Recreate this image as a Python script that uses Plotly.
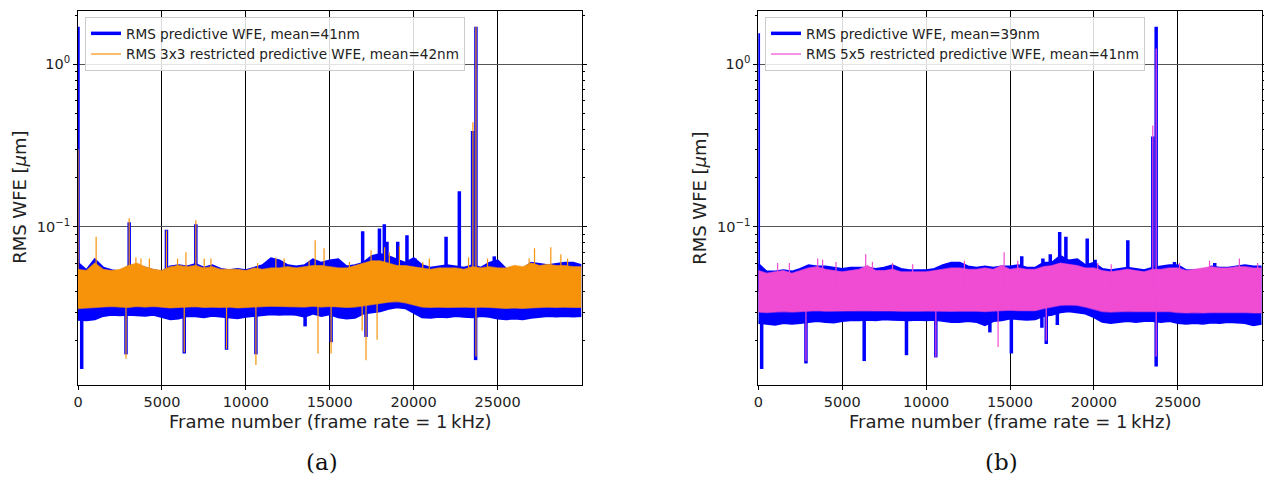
import plotly.graph_objects as go

# ---------------- data ----------------
frames = list(range(0, 30000, 500)) + [29999]

# panel (a): envelope of the dense noise band
blue_a_upper = [0.060, 0.054, 0.063, 0.056, 0.054, 0.053, 0.057, 0.058, 0.056, 0.054,
                0.053, 0.057, 0.058, 0.057, 0.059, 0.056, 0.058, 0.055, 0.054, 0.055,
                0.054, 0.056, 0.058, 0.064, 0.062, 0.058, 0.057, 0.058, 0.063, 0.060,
                0.062, 0.063, 0.057, 0.058, 0.060, 0.066, 0.068, 0.066, 0.063, 0.060,
                0.064, 0.058, 0.056, 0.057, 0.058, 0.057, 0.056, 0.058, 0.056, 0.060,
                0.062, 0.055, 0.054, 0.055, 0.060, 0.059, 0.058, 0.059, 0.060, 0.060, 0.058]
blue_a_lower = [0.0270, 0.0268, 0.0272, 0.0285, 0.0290, 0.0288, 0.0290, 0.0288, 0.0286, 0.0290,
                0.0280, 0.0272, 0.0275, 0.0285, 0.0284, 0.0280, 0.0286, 0.0282, 0.0280, 0.0276,
                0.0282, 0.0285, 0.0290, 0.0292, 0.0290, 0.0292, 0.0290, 0.0282, 0.0295, 0.0285,
                0.0292, 0.0280, 0.0275, 0.0278, 0.0295, 0.0300, 0.0305, 0.0315, 0.0322, 0.0318,
                0.0300, 0.0280, 0.0278, 0.0282, 0.0280, 0.0285, 0.0282, 0.0280, 0.0285, 0.0282,
                0.0275, 0.0272, 0.0275, 0.0272, 0.0278, 0.0282, 0.0285, 0.0283, 0.0285, 0.0283, 0.0285]
orange_a_upper = [0.055, 0.054, 0.060, 0.055, 0.054, 0.055, 0.058, 0.060, 0.057, 0.055,
                  0.054, 0.057, 0.058, 0.057, 0.058, 0.056, 0.057, 0.055, 0.055, 0.055,
                  0.054, 0.056, 0.055, 0.056, 0.056, 0.057, 0.056, 0.057, 0.058, 0.058,
                  0.057, 0.056, 0.056, 0.058, 0.060, 0.062, 0.062, 0.060, 0.058, 0.058,
                  0.057, 0.056, 0.055, 0.056, 0.056, 0.056, 0.055, 0.057, 0.056, 0.057,
                  0.056, 0.056, 0.058, 0.057, 0.060, 0.058, 0.059, 0.058, 0.058, 0.057, 0.057]
orange_a_lower = [0.0315, 0.0318, 0.0320, 0.0322, 0.0325, 0.0322, 0.0320, 0.0325, 0.0322, 0.0325,
                  0.0320, 0.0318, 0.0320, 0.0322, 0.0324, 0.0320, 0.0322, 0.0320, 0.0322, 0.0318,
                  0.0320, 0.0322, 0.0325, 0.0326, 0.0325, 0.0325, 0.0324, 0.0322, 0.0326, 0.0322,
                  0.0325, 0.0322, 0.0320, 0.0322, 0.0328, 0.0335, 0.0340, 0.0345, 0.0348, 0.0342,
                  0.0332, 0.0322, 0.0320, 0.0322, 0.0320, 0.0322, 0.0322, 0.0320, 0.0322, 0.0320,
                  0.0318, 0.0316, 0.0318, 0.0316, 0.0318, 0.0320, 0.0322, 0.0320, 0.0322, 0.0320, 0.0320]

# panel (a): isolated spikes (frame, value)
blue_a_spike_frames = [0, 3050, 5270, 7020, 16960, 17960, 18250, 18410, 19050, 19600, 20080,
                       21930, 22720, 23510, 23710, 24800,
                       220, 2860, 6330, 8850, 10600, 13530, 15080, 17160, 23690]
blue_a_spike_values = [1.70, 0.107, 0.096, 0.104, 0.094, 0.098, 0.104, 0.081, 0.081, 0.089, 0.064,
                       0.087, 0.166, 0.389, 1.70, 0.066,
                       0.0134, 0.0165, 0.0167, 0.0176, 0.0165, 0.0245, 0.0196, 0.0211, 0.0152]
orange_a_spike_frames = [0, 1080, 3050, 5270, 7020, 14130, 14660, 18270, 23530, 23710, 27200, 28170,
                         3450, 3750, 4250, 5930, 6430, 7520, 7920, 10700, 11790, 12280, 13770,
                         16170, 17460, 18550, 19150, 20540, 20930, 23270, 24400, 26880, 28770, 29170,
                         2860, 6330, 8850, 10600, 14300, 15080, 16930, 17160, 17820, 23710]
orange_a_spike_values = [0.30, 0.087, 0.113, 0.095, 0.110, 0.083, 0.074, 0.075, 0.44, 1.70, 0.074, 0.075,
                         0.065, 0.064, 0.064, 0.064, 0.070, 0.064, 0.064, 0.060, 0.065, 0.064, 0.062,
                         0.061, 0.072, 0.070, 0.076, 0.061, 0.064, 0.065, 0.064, 0.064, 0.068, 0.064,
                         0.0155, 0.0170, 0.0178, 0.0142, 0.0167, 0.0167, 0.0230, 0.0152, 0.0203, 0.0160]

# panel (b): envelope of the dense noise band
blue_b_upper = [0.059, 0.053, 0.053, 0.054, 0.053, 0.055, 0.058, 0.057, 0.057, 0.056,
                0.055, 0.056, 0.056, 0.056, 0.055, 0.056, 0.058, 0.055, 0.054, 0.054,
                0.054, 0.055, 0.058, 0.060, 0.060, 0.057, 0.056, 0.057, 0.056, 0.057,
                0.057, 0.058, 0.056, 0.056, 0.060, 0.060, 0.066, 0.062, 0.063, 0.058,
                0.060, 0.055, 0.054, 0.055, 0.056, 0.055, 0.054, 0.056, 0.057, 0.058,
                0.058, 0.054, 0.054, 0.053, 0.057, 0.056, 0.056, 0.057, 0.058, 0.057, 0.057]
blue_b_lower = [0.0258, 0.0255, 0.0252, 0.0258, 0.0255, 0.0258, 0.0262, 0.0265, 0.0262, 0.0260,
                0.0265, 0.0268, 0.0268, 0.0270, 0.0268, 0.0272, 0.0270, 0.0268, 0.0268, 0.0270,
                0.0268, 0.0270, 0.0265, 0.0262, 0.0262, 0.0265, 0.0262, 0.0250, 0.0265, 0.0268,
                0.0275, 0.0272, 0.0270, 0.0272, 0.0285, 0.0290, 0.0300, 0.0305, 0.0300, 0.0295,
                0.0280, 0.0262, 0.0258, 0.0262, 0.0265, 0.0262, 0.0265, 0.0265, 0.0262, 0.0265,
                0.0258, 0.0255, 0.0258, 0.0255, 0.0260, 0.0258, 0.0262, 0.0260, 0.0258, 0.0250, 0.0255]
pink_b_upper = [0.054, 0.052, 0.053, 0.054, 0.052, 0.054, 0.056, 0.057, 0.055, 0.054,
                0.053, 0.054, 0.055, 0.058, 0.054, 0.054, 0.055, 0.053, 0.053, 0.053,
                0.053, 0.054, 0.055, 0.056, 0.056, 0.055, 0.055, 0.056, 0.055, 0.058,
                0.055, 0.056, 0.055, 0.055, 0.057, 0.058, 0.060, 0.059, 0.058, 0.056,
                0.056, 0.054, 0.053, 0.054, 0.055, 0.054, 0.053, 0.055, 0.055, 0.056,
                0.056, 0.054, 0.055, 0.056, 0.057, 0.056, 0.056, 0.057, 0.057, 0.056, 0.056]
pink_b_lower = [0.0300, 0.0298, 0.0300, 0.0302, 0.0300, 0.0302, 0.0305, 0.0306, 0.0304, 0.0305,
                0.0304, 0.0306, 0.0305, 0.0306, 0.0305, 0.0306, 0.0305, 0.0304, 0.0303, 0.0304,
                0.0305, 0.0304, 0.0302, 0.0303, 0.0304, 0.0305, 0.0304, 0.0302, 0.0305, 0.0306,
                0.0308, 0.0306, 0.0305, 0.0306, 0.0315, 0.0322, 0.0330, 0.0332, 0.0330, 0.0322,
                0.0312, 0.0302, 0.0300, 0.0302, 0.0303, 0.0302, 0.0302, 0.0303, 0.0300, 0.0302,
                0.0298, 0.0296, 0.0298, 0.0296, 0.0298, 0.0298, 0.0300, 0.0298, 0.0298, 0.0296, 0.0296]

blue_b_spike_frames = [0, 15700, 16960, 17400, 17960, 18330, 19030, 19600, 20070, 22020,
                       23510, 23710, 24800, 27200,
                       200, 2840, 6310, 8830, 10580, 13800, 15080, 16900, 17160, 17820, 23710]
blue_b_spike_values = [1.55, 0.066, 0.064, 0.068, 0.093, 0.087, 0.063, 0.085, 0.063, 0.083,
                       0.36, 1.70, 0.061, 0.060,
                       0.0134, 0.0145, 0.0150, 0.0163, 0.0158, 0.0225, 0.0167, 0.0240, 0.0191, 0.0250, 0.0139]
pink_b_spike_frames = [6400, 14650, 26890, 28670, 23510, 23710,
                       1150, 1850, 3540, 3830, 4630, 6800, 8000, 9200, 12280,
                       15460, 20230, 21030, 25100, 29760,
                       2840, 10580, 14290, 17160, 23710]
pink_b_spike_values = [0.068, 0.070, 0.062, 0.064, 0.42, 1.25,
                       0.060, 0.060, 0.064, 0.063, 0.061, 0.061, 0.060, 0.059, 0.062,
                       0.062, 0.060, 0.059, 0.060, 0.060,
                       0.0150, 0.0158, 0.0183, 0.0200, 0.0160]

legend_a = ["RMS predictive WFE, mean=41nm", "RMS 3x3 restricted predictive WFE, mean=42nm"]
legend_b = ["RMS predictive WFE, mean=39nm", "RMS 5x5 restricted predictive WFE, mean=41nm"]
x_ticks = [0, 5000, 10000, 15000, 20000, 25000]
x_tick_text = ["0", "5000", "10000", "15000", "20000", "25000"]
y_ticks = [0.1, 1.0]
y_tick_text = ["10<sup>\u22121</sup>", "10<sup>0</sup>"]
y_minor = [0.02, 0.03, 0.04, 0.05, 0.06, 0.07, 0.08, 0.09,
           0.2, 0.3, 0.4, 0.5, 0.6, 0.7, 0.8, 0.9, 2.0]
SPIKE_BASE = 0.04

# ---------------- styles ----------------
BLUE = "#0000ff"
ORANGE = "#f7930b"
PINK = "#ef4bd3"
W, H = 1264, 479
FONT = "DejaVu Sans"


def px_x(p):
    return p / W


def px_y(p):
    return 1 - p / H


fig = go.Figure()


def add_band(xs, up, lo, color, edge_color, edge_w, xa, ya):
    fig.add_trace(go.Scatter(x=xs, y=up, mode="lines", line=dict(color=edge_color, width=edge_w),
                             xaxis=xa, yaxis=ya, showlegend=False, hoverinfo="skip"))
    fig.add_trace(go.Scatter(x=xs, y=lo, mode="lines", line=dict(color=edge_color, width=edge_w),
                             fill="tonexty", fillcolor=color,
                             xaxis=xa, yaxis=ya, showlegend=False, hoverinfo="skip"))


def add_spikes(fr, vals, color, width, xa, ya, name, legend):
    xs, ys = [], []
    for f, v in zip(fr, vals):
        xs += [f, f, None]
        ys += [SPIKE_BASE, v, None]
    fig.add_trace(go.Scatter(x=xs, y=ys, mode="lines", line=dict(color=color, width=width),
                             xaxis=xa, yaxis=ya, name=name, legend=legend,
                             showlegend=True, hoverinfo="skip", connectgaps=False))


# panel (a)
add_spikes(blue_a_spike_frames, blue_a_spike_values, BLUE, 3.5, "x", "y", legend_a[0], "legend")
add_band(frames, blue_a_upper, blue_a_lower, BLUE, BLUE, 2.5, "x", "y")
add_band(frames, orange_a_upper, orange_a_lower, ORANGE, "rgba(247,147,11,0.6)", 1.2, "x", "y")
add_spikes(orange_a_spike_frames, orange_a_spike_values, ORANGE, 1.2, "x", "y", legend_a[1], "legend")

# panel (b)
add_spikes(blue_b_spike_frames, blue_b_spike_values, BLUE, 3.5, "x2", "y2", legend_b[0], "legend2")
add_band(frames, blue_b_upper, blue_b_lower, BLUE, BLUE, 2.5, "x2", "y2")
add_band(frames, pink_b_upper, pink_b_lower, PINK, "rgba(239,75,211,0.6)", 1.2, "x2", "y2")
add_spikes(pink_b_spike_frames, pink_b_spike_values, PINK, 1.2, "x2", "y2", legend_b[1], "legend2")

top, bottom = 10.7, 385
dom_a = [px_x(78), px_x(581.5)]
dom_b = [px_x(758.3), px_x(1261.7)]
ydom = [px_y(bottom), px_y(top)]

xaxis_style = dict(range=[0, 29999], tickmode="array", tickvals=x_ticks, ticktext=x_tick_text,
                   showgrid=True, gridcolor="black", gridwidth=1, automargin=False,
                   showline=True, linecolor="black", linewidth=1, mirror=True,
                   ticks="outside", ticklen=4, tickcolor="black",
                   tickfont=dict(family=FONT, size=14.5, color="#222"), zeroline=False)
yaxis_style = dict(type="log", range=[-1.971, 0.329], tickmode="array", tickvals=y_ticks,
                   ticktext=y_tick_text, showgrid=True, gridcolor="#555", gridwidth=1,
                   automargin=False,
                   showline=True, linecolor="black", linewidth=1, mirror="allticks",
                   ticks="outside", ticklen=4, tickcolor="black",
                   tickfont=dict(family=FONT, size=14.5, color="#222"), zeroline=False,
                   minor=dict(tickmode="array", tickvals=y_minor, ticks="outside", ticklen=2,
                              tickcolor="black", showgrid=False))

legend_style = dict(bgcolor="rgba(255,255,255,0.85)", bordercolor="#cccccc", borderwidth=1,
                    font=dict(family=FONT, size=13.6, color="#222"), xanchor="left", yanchor="top",
                    itemwidth=30, tracegroupgap=0, traceorder="normal")

ann = []
for xc in [20, 700]:
    ann.append(dict(text="RMS WFE [<i>\u03bc</i>m]", x=px_x(xc), y=px_y((top + bottom) / 2),
                    xref="paper", yref="paper", textangle=-90, showarrow=False,
                    font=dict(family=FONT, size=18, color="#222"), xanchor="center", yanchor="middle"))
for xc in [(78 + 581.5) / 2, (758.3 + 1261.7) / 2]:
    ann.append(dict(text="Frame number (frame rate = 1\u2009kHz)", x=px_x(xc), y=px_y(421),
                    xref="paper", yref="paper", showarrow=False,
                    font=dict(family=FONT, size=18, color="#222"), xanchor="center", yanchor="middle"))
for xc, cap in [(322, "(a)"), (1001, "(b)")]:
    ann.append(dict(text=cap, x=px_x(xc), y=px_y(462), xref="paper", yref="paper", showarrow=False,
                    font=dict(family="DejaVu Serif", size=23, color="#111"),
                    xanchor="center", yanchor="middle"))

fig.update_layout(
    width=W, height=H, margin=dict(l=0, r=0, t=0, b=0, autoexpand=False),
    paper_bgcolor="white", plot_bgcolor="white",
    xaxis=dict(domain=dom_a, anchor="y", **xaxis_style),
    yaxis=dict(domain=ydom, anchor="x", **yaxis_style),
    xaxis2=dict(domain=dom_b, anchor="y2", **xaxis_style),
    yaxis2=dict(domain=ydom, anchor="x2", **yaxis_style),
    legend=dict(x=px_x(85), y=px_y(17), **legend_style),
    legend2=dict(x=px_x(765), y=px_y(17), **legend_style),
    annotations=ann,
    showlegend=True,
)

fig.write_html("out.html", config={"displayModeBar": False},
               post_script="document.body.style.margin='0';document.body.style.padding='0';"
                           "document.body.style.overflow='hidden';")
